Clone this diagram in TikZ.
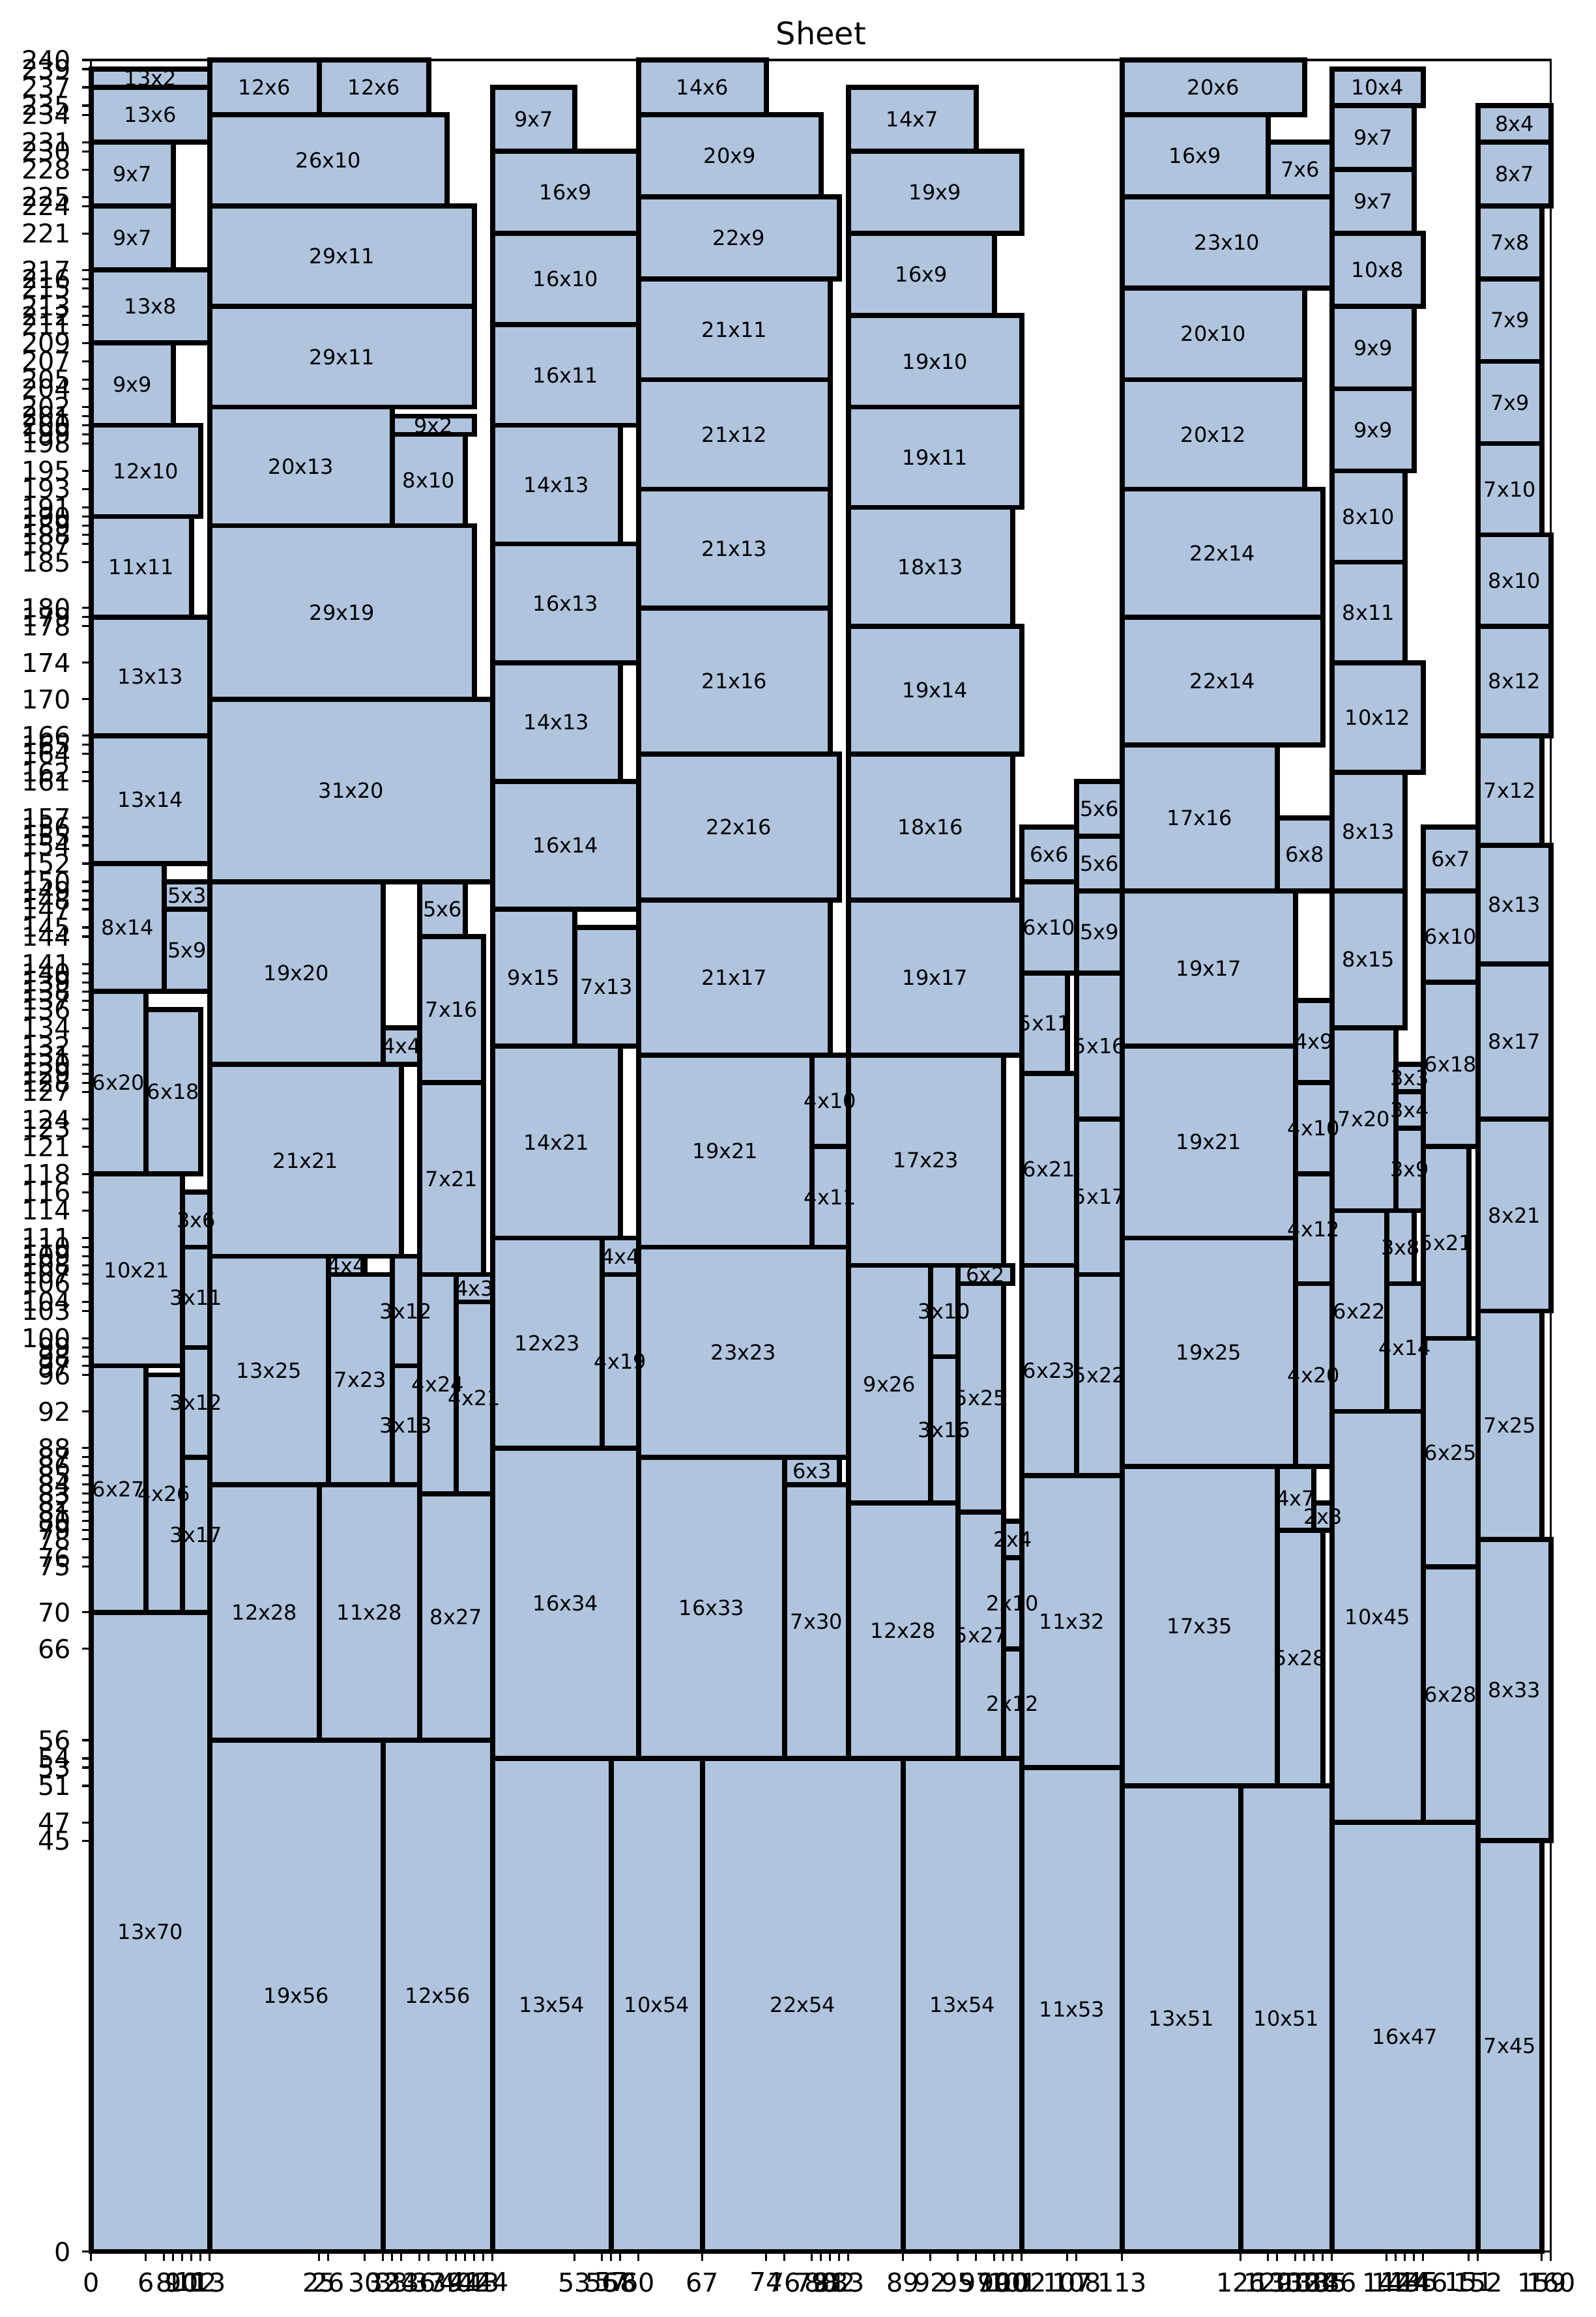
\documentclass[tikz,border=0pt]{standalone}
\usepackage{fontspec}
\setmainfont{DejaVu Sans}
\definecolor{boxfill}{RGB}{176,196,222}

% Packed pieces: x / y / width / height (sheet units)
\def\piecelist{%
0/0/13/70, 0/70/6/27, 6/70/4/26, 10/70/3/17, 10/87/3/12, 10/99/3/11, 10/110/3/6,
0/97/10/21, 0/118/6/20, 6/118/6/18, 0/138/8/14, 8/138/5/9, 8/147/5/3, 0/152/13/14,
0/166/13/13, 0/179/11/11, 0/190/12/10, 0/200/9/9, 0/209/13/8, 0/217/9/7, 0/224/9/7,
0/231/13/6, 0/237/13/2,
13/0/19/56, 32/0/12/56, 13/56/12/28, 25/56/11/28, 36/56/8/27, 26/106/4/4, 13/84/13/25,
26/84/7/23, 33/84/3/13, 33/97/3/12, 36/83/4/24, 40/83/4/21, 40/104/4/3, 36/107/7/21,
13/109/21/21, 36/128/7/16, 32/130/4/4, 13/130/19/20, 36/144/5/6, 13/150/31/20,
13/170/29/19, 13/189/20/13, 33/189/8/10, 33/199/9/2, 13/202/29/11, 13/213/29/11,
13/224/26/10, 13/234/12/6, 25/234/12/6,
44/0/13/54, 57/0/10/54, 44/54/16/34, 44/88/12/23, 56/88/4/19, 56/107/4/4, 44/111/14/21,
44/132/9/15, 53/132/7/13, 44/147/16/14, 44/161/14/13, 44/174/16/13, 44/187/14/13,
44/200/16/11, 44/211/16/10, 44/221/16/9, 44/230/9/7,
67/0/22/54, 60/54/16/33, 76/54/7/30, 76/84/6/3, 60/87/23/23, 60/110/19/21, 79/110/4/11,
79/121/4/10, 60/131/21/17, 60/148/22/16, 60/164/21/16, 60/180/21/13, 60/193/21/12,
60/205/21/11, 60/216/22/9, 60/225/20/9, 60/234/14/6,
89/0/13/54, 83/54/12/28, 95/54/5/27, 100/54/2/12, 100/66/2/10, 100/76/2/4, 95/81/5/25,
83/82/9/26, 92/82/3/16, 92/98/3/10, 95/106/6/2, 83/108/17/23, 83/131/19/17, 83/148/18/16,
83/164/19/14, 83/178/18/13, 83/191/19/11, 83/202/19/10, 83/212/16/9, 83/221/19/9,
83/230/14/7,
102/0/11/53, 102/53/11/32, 102/85/6/23, 108/85/5/22, 102/108/6/21, 108/107/5/17,
108/124/5/16, 102/129/5/11, 102/140/6/10, 108/140/5/9, 102/150/6/6, 108/149/5/6,
108/155/5/6,
113/0/13/51, 126/0/10/51, 113/51/17/35, 130/51/5/28, 130/79/4/7, 134/79/2/3, 113/86/19/25,
132/86/4/20, 132/106/4/12, 132/118/4/10, 113/111/19/21, 132/128/4/9, 113/132/19/17,
113/149/17/16, 130/149/6/8, 113/165/22/14, 113/179/22/14, 113/193/20/12, 113/205/20/10,
113/215/23/10, 113/225/16/9, 129/225/7/6, 113/234/20/6,
136/0/16/47, 136/47/10/45, 136/92/6/22, 142/92/4/14, 142/106/3/8, 136/114/7/20,
143/114/3/9, 143/123/3/4, 143/127/3/3, 136/134/8/15, 136/149/8/13, 136/162/10/12,
136/174/8/11, 136/185/8/10, 136/195/9/9, 136/204/9/9, 136/213/10/8, 136/221/9/7,
136/228/9/7, 136/235/10/4,
146/47/6/28, 146/75/6/25, 146/100/5/21, 146/121/6/18, 146/139/6/10, 146/149/6/7,
152/0/7/45, 152/45/8/33, 152/78/7/25, 152/103/8/21, 152/124/8/17, 152/141/8/13,
152/154/7/12, 152/166/8/12, 152/178/8/10, 152/188/7/10, 152/198/7/9, 152/207/7/9,
152/216/7/8, 152/224/8/7, 152/231/8/4}

% Tick positions: every piece edge
\def\xticklist{0,6,8,9,10,11,12,13,25,26,30,32,33,34,36,37,39,40,41,42,43,44,53,56,57,58,60,67,74,76,79,80,81,82,83,89,92,95,97,99,100,101,102,107,108,113,126,129,130,132,133,134,135,136,142,143,144,145,146,151,152,159,160}
\def\yticklist{0,45,47,51,53,54,56,66,70,75,76,78,79,80,81,82,83,84,85,86,87,88,92,96,97,98,99,100,103,104,106,107,108,109,110,111,114,116,118,121,123,124,127,128,129,130,131,132,134,136,137,138,139,140,141,144,145,147,148,149,150,152,154,155,156,157,161,162,164,165,166,170,174,178,179,180,185,187,188,189,190,191,193,195,198,199,200,201,202,204,205,207,209,211,212,213,215,216,217,221,224,225,228,230,231,234,235,237,239,240}

\begin{document}
\begin{tikzpicture}[x=0.14cm,y=0.1401cm,
  piece/.style={draw=black,fill=boxfill,line width=2.2pt},
  piecelabel/.style={inner sep=0pt,font=\fontsize{9.1}{10}\selectfont},
  spine/.style={draw=black,line width=0.9pt},
  tickmark/.style={draw=black,line width=0.9pt},
  ticklabel/.style={inner sep=0pt,font=\fontsize{11.3}{13}\selectfont},
  titlelabel/.style={inner sep=0pt,font=\fontsize{13.6}{16}\selectfont}]
\useasboundingbox (-1.399cm,-1.004cm) rectangle (23.091cm,34.546cm);

% pieces
\foreach \bx/\by/\bw/\bh in \piecelist {
  \path[piece] (\bx,\by) rectangle ++(\bw,\bh);
}
% piece labels
\foreach \bx/\by/\bw/\bh [count=\i] in \piecelist {
  \node[piecelabel] (lb\i) at ({\bx+\bw/2},{\by+\bh/2}) {\bw x\bh};
}

% frame
\path[spine] (0,0) rectangle (160,240);

% x ticks
\foreach \v [count=\i] in \xticklist {
  \draw[tickmark] (\v,0) -- ++(0,-0.14cm);
  \node[ticklabel,anchor=north] (xt\i) at ([yshift=-0.314cm]\v,0) {\v};
}
% y ticks
\foreach \v [count=\i] in \yticklist {
  \draw[tickmark] (0,\v) -- ++(-0.14cm,0);
  \node[ticklabel,anchor=east] (yt\i) at ([xshift=-0.30cm]0,\v) {\v};
}

% title
\node[titlelabel,anchor=base] (title) at ([yshift=0.24cm]80,240) {Sheet};
\end{tikzpicture}
\end{document}
